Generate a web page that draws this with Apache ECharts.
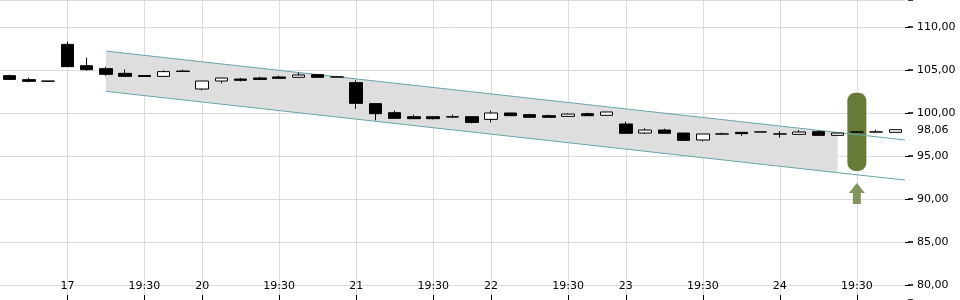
<!DOCTYPE html>
<html>
<head>
<meta charset="utf-8">
<script src="https://cdn.jsdelivr.net/npm/echarts@6/dist/echarts.min.js"></script>
<style>html,body{margin:0;padding:0;background:#fff}#c{width:960px;height:300px}</style>
</head>
<body>
<div id="c"></div>
<script>
// Category labels (empty = unlabelled slot)
const categories = ['', '', '', '17', '', '', '', '19:30', '', '', '20', '', '', '', '19:30', '', '', '', '21', '', '', '', '19:30', '', '', '22', '', '', '', '19:30', '', '', '23', '', '', '', '19:30', '', '', '', '24', '', '', '', '19:30', '', ''];
const opens  = [104.34,103.88,103.71,107.98,105.50,105.16,104.61,104.36,104.26,104.88,102.79,103.72,103.95,104.07,104.19,104.15,104.46,104.20,103.53,101.09,100.04,99.57,99.57,99.56,99.57,99.26,100.00,99.81,99.69,99.61,99.92,99.73,98.72,97.67,98.02,97.67,96.86,97.57,97.75,97.80,97.57,97.52,97.83,97.40,97.80,97.80,97.75];
const closes = [103.91,103.68,103.70,105.39,105.04,104.50,104.26,104.24,104.81,104.83,103.72,104.07,103.80,103.91,104.03,104.42,104.15,104.18,101.12,99.92,99.38,99.34,99.34,99.53,98.91,100.00,99.69,99.50,99.50,99.88,99.69,100.12,97.64,98.02,97.64,96.82,97.56,97.55,97.60,97.79,97.55,97.79,97.40,97.67,97.78,97.79,98.06];
const lows   = [103.88,103.57,103.68,105.39,104.92,104.34,104.24,104.20,104.26,104.83,102.64,103.45,103.68,103.84,104.03,104.15,104.13,104.17,100.50,99.15,99.38,99.34,99.25,99.50,98.80,98.91,99.69,99.50,99.50,99.57,99.69,99.73,97.64,97.56,97.64,96.82,96.71,97.55,97.36,97.79,97.13,97.52,97.40,97.40,97.70,97.79,97.75];
const highs  = [104.45,104.10,103.73,108.30,106.43,105.39,105.04,104.40,104.96,105.04,103.72,104.07,104.07,104.22,104.34,104.69,104.50,104.22,103.80,101.09,100.27,99.81,99.57,99.81,99.57,100.27,100.00,99.92,99.81,99.96,100.04,100.12,98.99,98.22,98.18,97.67,97.56,97.72,97.75,97.80,97.87,98.02,97.95,97.67,97.90,98.06,98.06];
const lastPrice = 98.06;
// Trend channel (x in category index units; 46.5 = right edge of last slot)
const channelX     = [5, 43, 46.5];
const channelUpper = [107.20, 97.74, 96.86];
const channelLower = [102.52, 93.06, 92.20];
// Target marker
const targetIndex = 44;
const targetLow = 93.26, targetHigh = 102.36;
const arrowValue = 90.64;

const candleData = opens.map((o, i) => [o, closes[i], lows[i], highs[i]]);
const greenBase = categories.map((_, i) => i === targetIndex ? targetLow : null);
const greenBar = categories.map((_, i) => i === targetIndex ? targetHigh - targetLow : null);
const arrowData = categories.map((_, i) => i === targetIndex ? arrowValue : null);

const FONT = 'DejaVu Sans';
const showIdx = (idx) => categories[idx] !== '';
const Y_MIN = 78.256, Y_MAX = 113.14;

function pt(api, x, y) {
  const i = Math.floor(x), f = x - i;
  const c = api.coord([i, y]);
  const w = api.size([1, 0])[0];
  return [c[0] + f * w, c[1]];
}

const chart = echarts.init(document.getElementById('c'));
chart.setOption({
  animation: false,
  backgroundColor: '#fff',
  grid: {left: 0, right: 55, top: 0, bottom: 0},
  xAxis: {
    type: 'category',
    data: categories,
    boundaryGap: true,
    axisLine: {show: false},
    axisTick: {show: true, inside: true, length: 5, alignWithLabel: true, interval: showIdx, lineStyle: {color: '#000'}},
    axisLabel: {inside: true, margin: 8, interval: showIdx, color: '#000', fontSize: 11, fontFamily: FONT},
    splitLine: {show: true, alignWithLabel: true, interval: showIdx, lineStyle: {color: '#dcdcdc', width: 1}}
  },
  yAxis: [{
    type: 'value',
    position: 'right',
    min: Y_MIN, max: Y_MAX,
    axisLine: {show: false},
    axisTick: {show: true, length: 5, lineStyle: {color: '#000', width: 1}},
    axisLabel: {margin: 12, color: '#000', fontSize: 11, fontFamily: FONT,
      showMinLabel: false, showMaxLabel: false,
      formatter: v => v.toFixed(2).replace('.', ',')},
    splitLine: {show: true, lineStyle: {color: '#dcdcdc', width: 1}}
  }, {
    type: 'value',
    position: 'right',
    min: Y_MIN, max: Y_MAX,
    offset: 3,
    axisLine: {show: false},
    axisTick: {show: true, length: 5, lineStyle: {color: '#000', width: 1.5}},
    axisLabel: {show: false},
    splitLine: {show: false}
  }],
  series: [
    {type: 'custom', z: 1, silent: true, data: [[0, 100]],
      renderItem: (params, api) => ({
        type: 'polygon',
        shape: {points: [
          pt(api, channelX[0], channelLower[0]), pt(api, channelX[1], channelLower[1]),
          pt(api, channelX[1], channelUpper[1]), pt(api, channelX[0], channelUpper[0])
        ]},
        style: {fill: '#dedede'}
      })},
    {type: 'bar', data: greenBase, stack: 'g', barWidth: 19, itemStyle: {color: 'rgba(0,0,0,0)'}, z: 2},
    {type: 'bar', data: greenBar, stack: 'g', barWidth: 19, itemStyle: {color: '#677a37', borderRadius: 8}, z: 2},
    {type: 'scatter', data: arrowData, symbol: 'path://M8,0 L16,10 L12,10 L12,21 L4,21 L4,10 L0,10 Z',
      symbolSize: [16, 21], itemStyle: {color: '#677a37'}, z: 2},
    {type: 'custom', z: 3, silent: true, data: [[0, 100]],
      renderItem: (params, api) => ({
        type: 'group',
        children: [channelUpper, channelLower].map(vals => ({
          type: 'polyline',
          shape: {points: channelX.map((x, i) => pt(api, x, vals[i]))},
          style: {stroke: '#68a6a9', lineWidth: 1, fill: null}
        }))
      })},
    {type: 'candlestick', data: candleData, barWidth: 13, z: 4,
      itemStyle: {color: '#fff', color0: '#000', borderColor: '#000', borderColor0: '#000', borderWidth: 1},
      markLine: {silent: true, symbol: 'none', lineStyle: {color: 'rgba(0,0,0,0)', width: 0},
        label: {show: true, position: 'end', distance: 12, color: '#000', fontSize: 11, fontFamily: FONT,
          formatter: () => lastPrice.toFixed(2).replace('.', ',')},
        data: [{yAxis: lastPrice}]}
    }
  ]
});
</script>
</body>
</html>
